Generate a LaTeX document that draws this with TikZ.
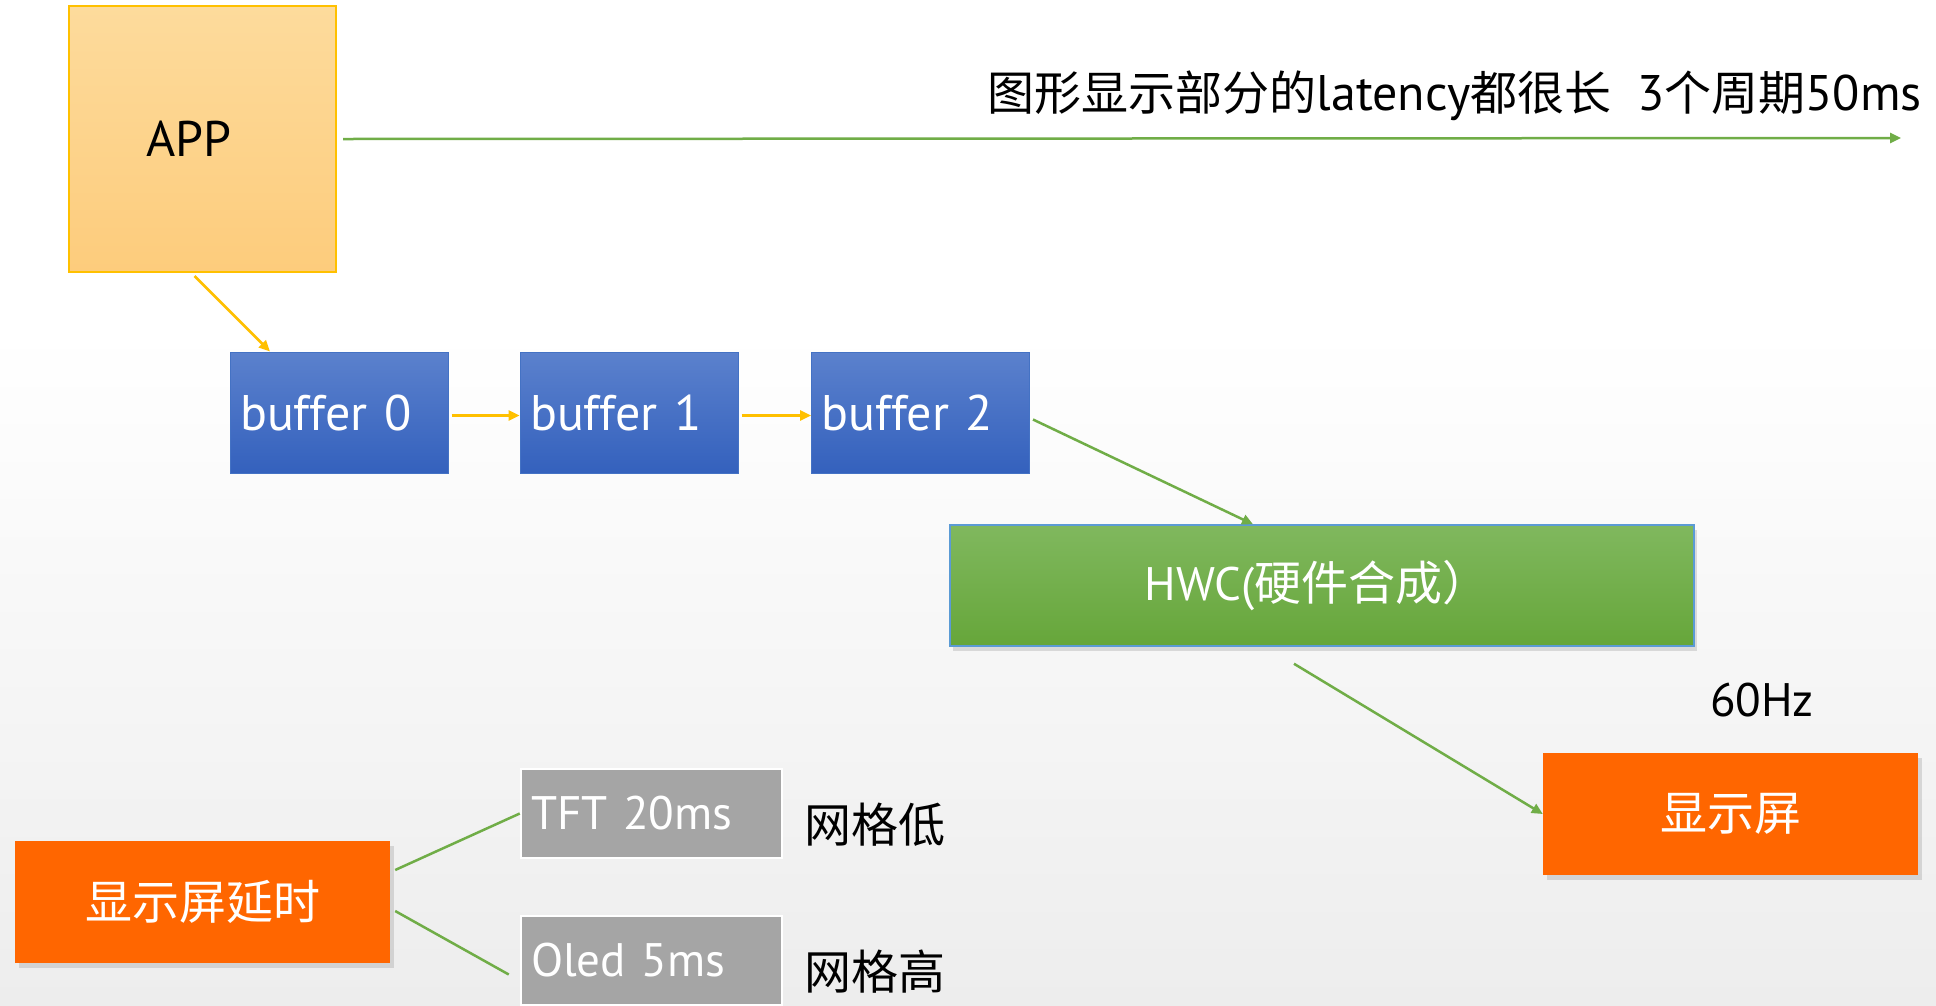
\documentclass[tikz,border=0pt]{standalone}
\usepackage{fontspec}
\setmainfont{PT Sans}
\newfontfamily\cjk{Noto Sans CJK SC}
\usetikzlibrary{arrows.meta,shadows,calc}
\definecolor{appA}{HTML}{FDDB9C}
\definecolor{appB}{HTML}{FDCC7C}
\definecolor{appline}{HTML}{FFC000}
\definecolor{bufA}{HTML}{5B81CD}
\definecolor{bufB}{HTML}{3461BD}
\definecolor{bufline}{HTML}{4472C4}
\definecolor{hwcA}{HTML}{80B85E}
\definecolor{hwcB}{HTML}{66A63A}
\definecolor{hwcline}{HTML}{5B9BD5}
\definecolor{orangefill}{HTML}{FF6600}
\definecolor{greyfill}{HTML}{A5A5A5}
\definecolor{linegreen}{HTML}{70AD47}
\definecolor{bggray}{HTML}{EDEDED}
\newcommand\cjkmid[1]{{\fontsize{47}{52}\selectfont\cjk #1}}
\tikzset{
  bigtext/.style={font=\fontsize{47}{52}\selectfont},
  latintext/.style={font=\fontsize{50}{55}\selectfont},
  appbox/.style={draw=appline, line width=2pt, top color=appA, bottom color=appB, latintext, text=black},
  bufbox/.style={draw=bufline, line width=1pt, top color=bufA, bottom color=bufB, text=white, latintext,
    minimum height=121pt, text width=198pt, inner xsep=10pt, align=left},
  hwcbox/.style={draw=hwcline, line width=1.5pt, top color=hwcA, bottom color=hwcB, text=white, bigtext,
    drop shadow={shadow xshift=3pt, shadow yshift=-5pt, opacity=0.25}},
  orbox/.style={fill=orangefill, text=white, bigtext,
    drop shadow={shadow xshift=4pt, shadow yshift=-5pt, opacity=0.25}},
  greybox/.style={fill=greyfill, draw=white, line width=2.5pt, text=white, bigtext,
    minimum height=89pt, text width=241pt, inner xsep=10pt, align=left},
  plain/.style={bigtext, text=black, inner sep=0pt},
  yarrow/.style={draw=appline, line width=2.5pt, -{Triangle[length=11pt,width=10pt]}},
  garrow/.style={draw=linegreen, line width=2.5pt, -{Triangle[length=11pt,width=10pt]}},
  gline/.style={draw=linegreen, line width=2.5pt},
}
\begin{document}
\begin{tikzpicture}[x=1pt,y=-1pt]
\fill[white] (0,0) rectangle (1936,1005);
\shade[top color=white, bottom color=bggray] (0,330) rectangle (1936,1005);
\useasboundingbox (0,0) rectangle (1936,1005);

\node[appbox, minimum width=267pt, minimum height=266pt] (app) at (202.5,139) {APP\kern27pt};
\node[bufbox] (b0) at (339,412.5) {buffer 0};
\node[bufbox] (b1) at (629,412.5) {buffer 1};
\node[bufbox] (b2) at (920.5,412.5) {buffer 2};
\node[hwcbox, minimum width=744pt, minimum height=121pt] (hwc) at (1322,585.5) {HWC({\cjk 硬件合成）}\kern10pt};
\node[orbox, minimum width=375pt, minimum height=122pt] (disp) at (1730.5,814) {\cjk 显示屏};
\node[orbox, minimum width=375pt, minimum height=122pt] (delay) at (202.5,902) {\cjk 显示屏延时};
\node[greybox] (tft) at (651.5,813.5) {TFT 20ms};
\node[greybox] (oled) at (651.5,960.5) {Oled 5ms};
\node[plain, anchor=west] (low) at (804,825) {\cjk 网格低};
\node[plain, anchor=west] (high) at (804,972) {\cjk 网格高};
\node[plain] (hz) at (1762,700) {60Hz};
\node[plain, latintext, anchor=east] (title) at (1922,96) {\cjkmid{图形显示部分的}latency\cjkmid{都很长}\hspace{26pt}3\cjkmid{个周期}50ms};
\coordinate (tend) at (1901,138);

\draw[garrow] ([xshift=6pt]app.east) -- (tend);
\draw[yarrow] ([xshift=-8pt,yshift=-3pt]app.south) -- ([xshift=-69pt]b0.north);
\draw[yarrow] ([xshift=3pt,yshift=-3pt]b0.east) -- ([yshift=-3pt]b1.west);
\draw[yarrow] ([xshift=3pt,yshift=-3pt]b1.east) -- ([yshift=-3pt]b2.west);
\draw[garrow] ([xshift=3pt,yshift=-7pt]b2.east) -- ([xshift=-69pt]hwc.north);
\draw[garrow] ([xshift=-28pt,yshift=-17pt]hwc.south) -- (disp.west);
\draw[gline] ([xshift=5pt,yshift=32pt]delay.east) -- (tft.west);
\draw[gline] ([xshift=5pt,yshift=-9pt]delay.east) -- ([xshift=-11pt,yshift=-14pt]oled.west);
\end{tikzpicture}
\end{document}
